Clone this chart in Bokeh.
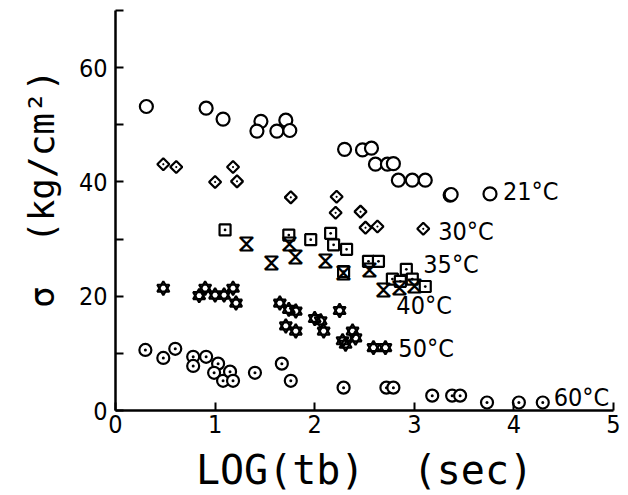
import numpy as np
from bokeh.plotting import figure
from bokeh.models import FixedTicker, ColumnDataSource, Range1d
from bokeh.core.properties import value
from bokeh.embed import file_html
from bokeh.resources import INLINE

# ---- data ----
t21_x = [0.31, 0.91, 1.08, 1.46, 1.42, 1.62, 1.71, 1.75, 2.30, 2.48, 2.57, 2.61, 2.73, 2.79,
         2.84, 2.98, 3.11, 3.36, 3.37, 3.76]
t21_y = [53.2, 52.9, 51.0, 50.6, 48.9, 48.9, 50.8, 49.0, 45.7, 45.6, 45.9, 43.1, 43.1, 43.2,
         40.3, 40.3, 40.3, 37.7, 37.8, 37.9]

t30_x = [0.48, 0.61, 1.00, 1.18, 1.22, 1.76, 2.22, 2.21, 2.46, 2.51, 2.63, 3.09]
t30_y = [43.1, 42.6, 40.0, 42.6, 40.1, 37.3, 37.4, 34.6, 34.8, 32.0, 32.2, 31.8]

t35_x = [1.10, 1.74, 1.96, 2.16, 2.19, 2.32, 2.29, 2.54, 2.64, 2.78, 2.86, 2.92, 2.98, 3.11]
t35_y = [31.6, 30.7, 29.9, 31.0, 29.0, 28.2, 24.3, 26.1, 26.1, 23.0, 22.6, 24.7, 23.0, 21.7]

t40_x = [1.32, 1.57, 1.75, 1.81, 2.11, 2.29, 2.55, 2.69, 2.85, 3.00]
t40_y = [29.4, 26.0, 29.3, 27.1, 26.4, 24.3, 24.7, 21.2, 21.6, 22.0]

t50_x = [0.48, 0.84, 0.90, 1.00, 1.09, 1.18, 1.21, 1.65, 1.74, 1.81, 1.71, 1.81, 2.00, 2.06,
         2.09, 2.25, 2.28, 2.31, 2.38, 2.41, 2.59, 2.71]
t50_y = [21.4, 20.1, 21.4, 20.2, 20.2, 21.4, 18.8, 18.8, 17.7, 17.4, 14.8, 13.9, 16.1, 15.7,
         13.9, 17.5, 12.2, 11.6, 13.9, 12.7, 11.0, 11.0]

t60_x = [0.30, 0.48, 0.60, 0.78, 0.78, 0.91, 1.03, 0.99, 1.08, 1.15, 1.18, 1.40, 1.67, 1.76,
         2.29, 2.72, 2.79, 3.18, 3.38, 3.46, 3.73, 4.05, 4.29]
t60_y = [10.6, 9.2, 10.8, 9.4, 7.8, 9.4, 8.2, 6.6, 5.2, 6.8, 5.2, 6.6, 8.2, 5.2,
         4.0, 4.0, 4.0, 2.6, 2.6, 2.6, 1.4, 1.4, 1.4]

series_labels = ["21°C", "30°C", "35°C", "40°C", "50°C", "60°C"]
label_x = [3.89, 3.24, 3.09, 2.82, 2.84, 4.40]
label_y = [38.4, 31.3, 25.6, 18.3, 10.8, 2.3]

x_ticks = [0, 1, 2, 3, 4, 5]
y_ticks = [0, 20, 40, 60]
y_minor = [10, 30, 50, 70]

TICK_FONT = "DejaVu Sans Condensed"
TITLE_FONT = "DejaVu Sans Mono"

p = figure(width=628, height=495, output_backend="svg", toolbar_location=None,
           x_range=Range1d(0, 5), y_range=Range1d(0, 70),
           min_border_left=115, min_border_right=15, min_border_top=10, min_border_bottom=85)
p.outline_line_color = None
p.grid.visible = False
p.background_fill_color = "white"
p.border_fill_color = "white"

for ax in (p.xaxis[0], p.yaxis[0]):
    ax.axis_line_width = 2.5
    ax.axis_line_color = "black"
    ax.major_tick_in = 8
    ax.major_tick_out = 0
    ax.major_tick_line_width = 2
    ax.minor_tick_in = 8
    ax.minor_tick_out = 0
    ax.minor_tick_line_width = 2
    ax.major_label_text_font = TICK_FONT
    ax.major_label_text_font_size = "25px"
    ax.major_label_text_color = "black"
    ax.axis_label_text_font = TITLE_FONT
    ax.axis_label_text_font_style = "normal"
    ax.axis_label_text_color = "black"

p.xaxis[0].ticker = FixedTicker(ticks=x_ticks, minor_ticks=[])
p.yaxis[0].ticker = FixedTicker(ticks=y_ticks, minor_ticks=y_minor)
p.xaxis[0].major_label_standoff = 4
p.yaxis[0].major_label_standoff = 8
p.xaxis[0].axis_label = "LOG(tb)\u00a0\u00a0(sec)"
p.xaxis[0].axis_label_text_font_size = "40px"
p.xaxis[0].axis_label_standoff = 11
p.yaxis[0].axis_label = "\u00a0\u00a0σ\u00a0\u00a0(kg/cm²)"
p.yaxis[0].axis_label_text_font_size = "36px"
p.yaxis[0].axis_label_standoff = 14

LW = 2.2
# 21 C : open circles
p.scatter(t21_x, t21_y, marker="circle", size=13, fill_color="white", line_color="black", line_width=LW)
# 30 C : diamonds (rotated squares with dot)
p.scatter(t30_x, t30_y, marker="square_dot", angle=np.pi / 4, size=8.5,
          fill_color="white", line_color="black", line_width=LW)
# 35 C : squares with dot
p.scatter(t35_x, t35_y, marker="square_dot", size=11, fill_color="white", line_color="black", line_width=LW)
# 40 C : hourglass symbols
p.text(t40_x, t40_y, text=["⧖"] * len(t40_x), text_font=value("DejaVu Sans"),
       text_font_size="24px", text_font_style="bold", text_align="center",
       text_baseline="middle", text_color="black")
# 50 C : hexagram = two triangles
p.scatter(t50_x, t50_y, marker="triangle", size=12, fill_color=None, line_color="black", line_width=LW)
p.scatter(t50_x, t50_y, marker="inverted_triangle", size=12, fill_color=None, line_color="black", line_width=LW)
# 60 C : circles with inner mark
p.scatter(t60_x, t60_y, marker="circle_dot", size=12, fill_color="white", line_color="black", line_width=LW)

lab = ColumnDataSource(dict(x=label_x, y=label_y, t=series_labels))
p.text("x", "y", text="t", source=lab, text_font=value(TICK_FONT), text_font_size="25px",
       text_align="left", text_baseline="middle", text_color="black")

open("out.html", "w").write(file_html(p, INLINE))
